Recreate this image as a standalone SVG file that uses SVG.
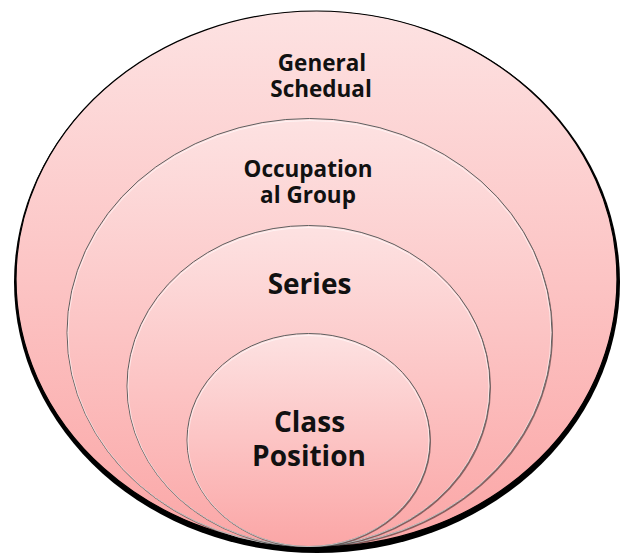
<svg xmlns="http://www.w3.org/2000/svg" width="620" height="558" viewBox="0 0 620 558">
<defs>
<linearGradient id="g" x1="0" y1="0" x2="0" y2="1">
<stop offset="0" stop-color="#fde2e2"/>
<stop offset="1" stop-color="#fba6a6"/>
</linearGradient>
<filter id="sh" x="-5%" y="-5%" width="110%" height="110%"><feGaussianBlur stdDeviation="0.4"/></filter>
</defs>
<style>
.ring{fill:url(#g);stroke:#5e5e5e;stroke-width:1}
.hl{fill:none;stroke:#ffffff;stroke-opacity:0.6;stroke-width:1}
.rs{fill:#000;fill-opacity:0.45;filter:url(#sh)}
text{font-family:"Open Sans","Liberation Sans",sans-serif;font-weight:700;fill:#111;text-anchor:middle}
.s{font-size:22.5px}
.l{font-size:28px}
</style>
<g id="general-schedual">
<ellipse cx="317" cy="282" rx="303" ry="271" fill="#000" filter="url(#sh)"/>
<ellipse cx="316.5" cy="279" rx="300.5" ry="268" fill="url(#g)" stroke="#000" stroke-width="1.2"/>
<text class="s" x="322" y="71">General</text>
<text class="s" x="321" y="97">Schedual</text>
</g>
<g id="occupational-group">
<ellipse class="rs" cx="310.5" cy="334" rx="242.5" ry="214"/>
<ellipse class="ring" cx="309.5" cy="332.5" rx="242.5" ry="214"/>
<ellipse class="hl" cx="309.5" cy="333.5" rx="241.5" ry="213"/>
<text class="s" x="308" y="177">Occupation</text>
<text class="s" x="308" y="203">al Group</text>
</g>
<g id="series">
<ellipse class="rs" cx="309.5" cy="387.5" rx="181.5" ry="160.5"/>
<ellipse class="ring" cx="308.5" cy="386" rx="181.5" ry="160.5"/>
<ellipse class="hl" cx="308.5" cy="387" rx="180.5" ry="159.5"/>
<text class="l" x="309.5" y="294">Series</text>
</g>
<g id="class-position">
<ellipse class="rs" cx="309.5" cy="441.5" rx="121.5" ry="106.5"/>
<ellipse class="ring" cx="308.5" cy="440" rx="121.5" ry="106.5"/>
<ellipse class="hl" cx="308.5" cy="441" rx="120.5" ry="105.5"/>
<text class="l" x="309.5" y="432">Class</text>
<text class="l" x="309" y="466">Position</text>
</g>
<g id="connectors"/>
</svg>
